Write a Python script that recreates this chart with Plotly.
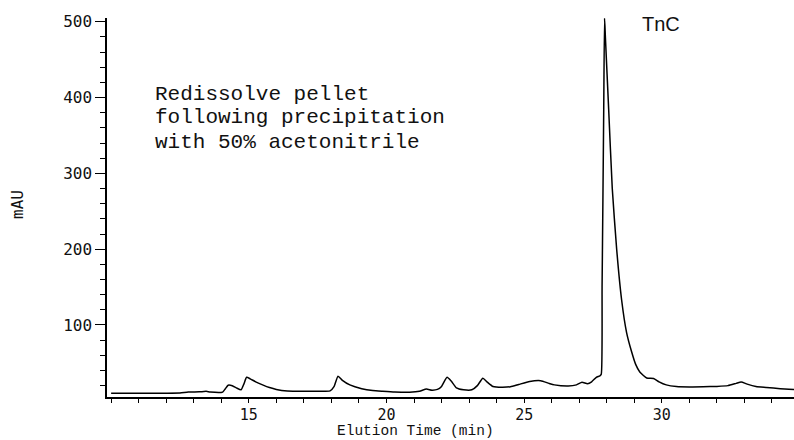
import plotly.graph_objects as go

# Elution time (min) and absorbance (mAU)
time_min = [10.0, 11.0, 12.0, 12.5, 12.8, 13.2, 13.45, 13.6, 14.05, 14.15, 14.25, 14.4, 14.55, 14.72,
            14.82, 14.92, 15.05, 15.25, 15.5, 15.75, 16.0, 16.4, 17.0, 17.5, 17.95, 18.1, 18.24, 18.4,
            18.67, 19.1, 19.5, 19.86, 20.3, 20.84, 21.2, 21.45, 21.65, 21.85, 22.0, 22.2, 22.35, 22.54,
            22.8, 23.1, 23.3, 23.5, 23.65, 23.87, 24.2, 24.5, 24.8, 25.2, 25.6, 25.9, 26.1, 26.6, 26.9,
            27.1, 27.3, 27.45, 27.62, 27.75, 27.8, 27.83, 27.86, 27.89, 27.92, 27.95, 28.07, 28.2,
            28.36, 28.54, 28.72, 28.9, 29.05, 29.2, 29.45, 29.7, 29.9, 30.16, 30.53, 31.0, 31.5, 32.0,
            32.4, 32.7, 32.88, 33.1, 33.42, 33.8, 34.3, 34.8]
absorbance_mau = [9.8, 10.0, 10.0, 10.2, 11.5, 11.8, 12.5, 11.5, 11.5, 16, 20.5, 19.8, 17, 14.5,
                  22, 31, 29, 25, 21, 17.5, 15, 13, 12.5, 12.5, 13, 19, 32.5, 27,
                  21, 16, 13.5, 12.5, 11.5, 11.2, 12.5, 15.5, 14, 15, 19, 31, 26, 17,
                  14.5, 14.5, 20, 29.8, 25, 18.8, 17.8, 18.5, 21.5, 25.5, 26.5, 23, 21, 19.5, 21,
                  24.5, 22.5, 25, 31, 33, 35, 150, 265, 385, 505, 480, 384, 280,
                  200, 133, 90, 65, 48, 38, 30, 29.5, 25, 21, 18.8, 18.3, 18.5, 19,
                  20, 23, 24.8, 22, 19, 17.5, 16, 15]

x_ticks = [15, 20, 25, 30]
y_ticks = [100, 200, 300, 400, 500]
note_lines = ["Redissolve pellet", "following precipitation", "with 50% acetonitrile"]
peak_label = "TnC"

fig = go.Figure()
fig.add_trace(go.Scatter(x=time_min, y=absorbance_mau, mode="lines",
                         line=dict(color="black", width=1.5, shape="spline", smoothing=0.5),
                         showlegend=False, hoverinfo="skip"))

fig.update_xaxes(range=[9.85, 34.8], showline=True, linecolor="black", linewidth=1.5,
                 ticks="outside", tickvals=x_ticks, ticklen=3, tickwidth=1, tickcolor="black",
                 minor=dict(dtick=1, tick0=10, ticks="outside", ticklen=4, tickcolor="black"),
                 showgrid=False, zeroline=False,
                 tickfont=dict(family="DejaVu Sans Mono", size=15, color="#111"))
fig.update_yaxes(range=[5, 505], showline=True, linecolor="black", linewidth=1.5,
                 ticks="outside", tickvals=y_ticks, ticklen=10, tickwidth=1, tickcolor="black",
                 minor=dict(dtick=20, tick0=0, ticks="outside", ticklen=5, tickcolor="black"),
                 showgrid=False, zeroline=False,
                 tickfont=dict(family="DejaVu Sans Mono", size=16, color="#111"))

L, R, T, B, W, H = 107, 0, 18, 43, 794, 440
ph = H - T - B
pw = W - L - R

def px(xp):
    return (xp - L) / pw

def py(yp):
    return (H - B - yp) / ph

annotations = []
mono = "Liberation Mono"
for line, base in zip(note_lines, [101, 125, 149]):
    annotations.append(dict(text=line, xref="paper", yref="paper", x=px(153), y=py(base - 7),
                            xanchor="left", yanchor="middle", showarrow=False,
                            font=dict(family=mono, size=21, color="#111")))
annotations.append(dict(text=peak_label, xref="paper", yref="paper", x=px(661), y=py(24),
                        xanchor="center", yanchor="middle", showarrow=False,
                        font=dict(family="Liberation Sans", size=20, color="#111")))
annotations.append(dict(text="Elution Time (min)", xref="paper", yref="paper", x=px(415), y=py(441),
                        xanchor="center", yanchor="bottom", showarrow=False,
                        font=dict(family=mono, size=14.5, color="#111")))
annotations.append(dict(text="mAU", xref="paper", yref="paper", x=px(17), y=py(205),
                        xanchor="center", yanchor="middle", showarrow=False, textangle=-90,
                        font=dict(family="DejaVu Sans Mono", size=16, color="#111")))

fig.update_layout(width=W, height=H, margin=dict(l=L, r=R, t=T, b=B),
                  paper_bgcolor="white", plot_bgcolor="white", annotations=annotations)

fig.write_html("out.html")
